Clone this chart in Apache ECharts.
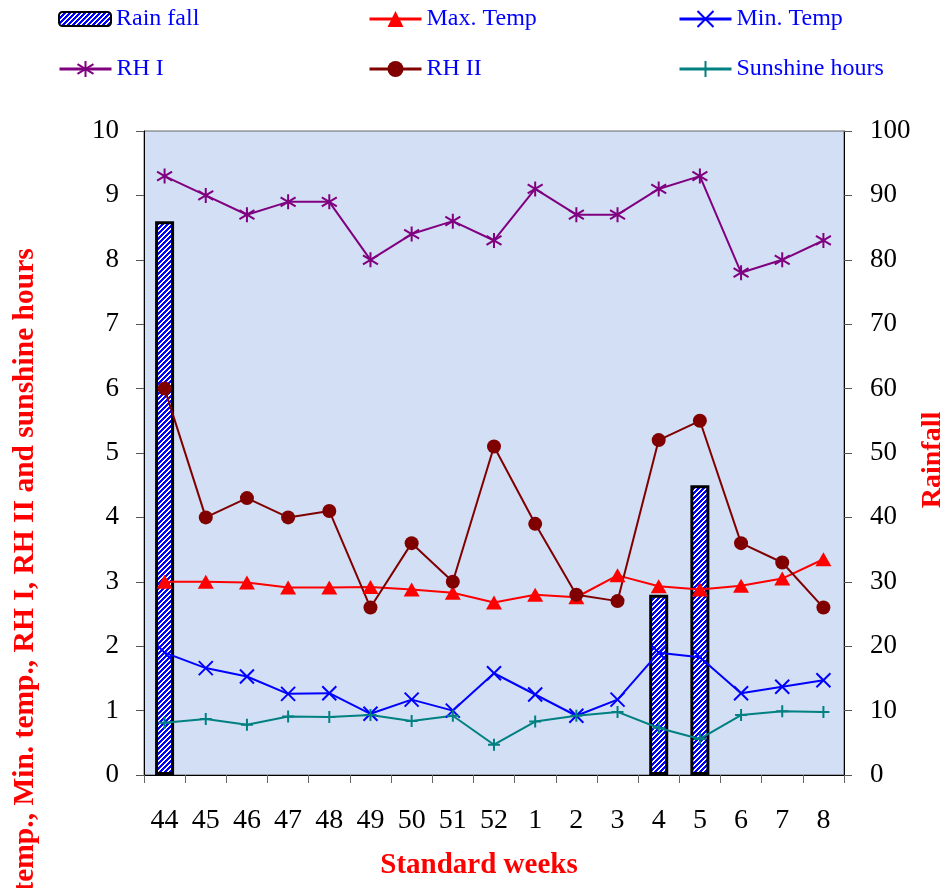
<!DOCTYPE html>
<html>
<head>
<meta charset="utf-8">
<script src="https://cdn.jsdelivr.net/npm/echarts@6/dist/echarts.min.js"></script>
<style>
html,body{margin:0;padding:0;background:#fff;}
#chart{width:951px;height:888px;}
</style>
</head>
<body>
<div id="chart"></div>
<script>
// ---- data ----
var weeks = ['44','45','46','47','48','49','50','51','52','1','2','3','4','5','6','7','8'];
var rainfall = [86, null, null, null, null, null, null, null, null, null, null, null, 28, 45, null, null, null];
var maxTemp = [3.00, 3.00, 2.99, 2.91, 2.91, 2.92, 2.88, 2.83, 2.68, 2.80, 2.76, 3.10, 2.93, 2.88, 2.94, 3.05, 3.35];
var minTemp = [1.90, 1.66, 1.53, 1.26, 1.27, 0.95, 1.17, 1.00, 1.58, 1.25, 0.92, 1.17, 1.90, 1.83, 1.27, 1.37, 1.47];
var rh1 = [9.3, 9.0, 8.7, 8.9, 8.9, 8.0, 8.4, 8.6, 8.3, 9.1, 8.7, 8.7, 9.1, 9.3, 7.8, 8.0, 8.3];
var rh2 = [6.0, 4.0, 4.3, 4.0, 4.1, 2.6, 3.6, 3.0, 5.1, 3.9, 2.8, 2.7, 5.2, 5.5, 3.6, 3.3, 2.6];
var sunshine = [0.81, 0.87, 0.78, 0.91, 0.90, 0.93, 0.84, 0.92, 0.47, 0.83, 0.92, 0.98, 0.73, 0.56, 0.93, 0.99, 0.98];
var leftTicks = {min: 0, max: 10, interval: 1};
var rightTicks = {min: 0, max: 100, interval: 10};

// ---- styling helpers ----
var pc = document.createElement('canvas');
pc.width = 5; pc.height = 5;
var pctx = pc.getContext('2d');
pctx.fillStyle = '#ffffff'; pctx.fillRect(0,0,5,5);
pctx.fillStyle = '#0000ff';
for (var yy = 0; yy < 5; yy++) for (var xx = 0; xx < 5; xx++) {
  var m = (xx + yy) % 5; if (m === 0 || m === 1 || m === 2) pctx.fillRect(xx, yy, 1, 1);
}
var stripe = {image: pc, repeat: 'repeat'};

var SERIF = '"Liberation Serif", "Times New Roman", serif';
var symX = 'path://M0,0L10,10M10,0L0,10';
var symStar = 'path://M5,0L5,10M0,2L10,8M0,8L10,2';
var symPlus = 'path://M5,0L5,10M0,5L10,5';

function lineSeries(name, data, color, symbol, size, stroke) {
  return {
    name: name, type: 'line', data: data, yAxisIndex: 0, z: 5,
    symbol: symbol, symbolSize: size, showSymbol: true,
    lineStyle: {color: color, width: 2},
    itemStyle: stroke ? {color: color, borderColor: color, borderWidth: 2} : {color: color, borderWidth: 0},
    emphasis: {disabled: true}
  };
}

function legendAt(name, left, top, h) {
  return {
    data: [name], left: left, top: top, itemWidth: 52, itemHeight: h,
    textStyle: {color: '#0000ff', fontFamily: SERIF, fontSize: 24},
    lineStyle: {width: 3},
    itemGap: 0, padding: 0, selectedMode: false
  };
}

var chart = echarts.init(document.getElementById('chart'), null, {renderer: 'canvas'});
chart.setOption({
  animation: false,
  backgroundColor: '#ffffff',
  legend: [
    legendAt('Rain fall', 58, 7, 14),
    legendAt('Max. Temp', 368, 7, 20),
    legendAt('Min. Temp', 678, 7, 20),
    legendAt('RH I', 58, 57, 20),
    legendAt('RH II', 368, 57, 20),
    legendAt('Sunshine hours', 678, 57, 20)
  ],
  grid: {left: 144, right: 107, top: 131, bottom: 113, show: true,
         backgroundColor: '#d2dff5', borderColor: '#666', borderWidth: 1},
  xAxis: {
    type: 'category', data: weeks, boundaryGap: true,
    axisLine: {lineStyle: {color: '#000', width: 1}},
    axisTick: {show: true, length: 8, lineStyle: {color: '#666'}},
    axisLabel: {color: '#000', fontFamily: SERIF, fontSize: 28, margin: 32, interval: 0},
    splitLine: {show: false}
  },
  yAxis: [
    {type: 'value', position: 'left', min: leftTicks.min, max: leftTicks.max, interval: leftTicks.interval,
     axisLine: {show: true, lineStyle: {color: '#000'}},
     axisTick: {show: true, length: 8, lineStyle: {color: '#555'}},
     axisLabel: {color: '#000', fontFamily: SERIF, fontSize: 27, margin: 25},
     splitLine: {show: false}},
    {type: 'value', position: 'right', min: rightTicks.min, max: rightTicks.max, interval: rightTicks.interval,
     axisLine: {show: true, lineStyle: {color: '#000'}},
     axisTick: {show: true, length: 8, lineStyle: {color: '#555'}},
     axisLabel: {color: '#000', fontFamily: SERIF, fontSize: 27, margin: 26},
     splitLine: {show: false}}
  ],
  graphic: [
    {type: 'text', x: 479, y: 866, style: {text: 'Standard weeks', fill: '#ff0000',
      font: 'bold 29px ' + SERIF, textAlign: 'center', textVerticalAlign: 'middle'}},
    {type: 'text', x: 933, y: 460, rotation: Math.PI / 2, style: {text: 'Rainfall', fill: '#ff0000',
      font: 'bold 28px ' + SERIF, textAlign: 'center', textVerticalAlign: 'middle'}},
    {type: 'text', x: 25, y: 606, rotation: Math.PI / 2, style: {text: 'Max. temp., Min. temp., RH I, RH II and sunshine hours', fill: '#ff0000',
      font: 'bold 29.5px ' + SERIF, textAlign: 'center', textVerticalAlign: 'middle'}}
  ],
  series: [
    {name: 'Rain fall', type: 'bar', yAxisIndex: 1, data: rainfall, barWidth: 19, z: 2,
     itemStyle: {color: stripe, borderColor: '#000', borderWidth: 3},
     emphasis: {disabled: true}},
    lineSeries('Max. Temp', maxTemp, '#ff0000', 'triangle', [16, 14], false),
    lineSeries('Min. Temp', minTemp, '#0000ff', symX, 14, true),
    lineSeries('RH I', rh1, '#800080', symStar, 15, true),
    lineSeries('RH II', rh2, '#800000', 'circle', 14, false),
    lineSeries('Sunshine hours', sunshine, '#008080', symPlus, 12, true)
  ]
});
</script>
</body>
</html>
